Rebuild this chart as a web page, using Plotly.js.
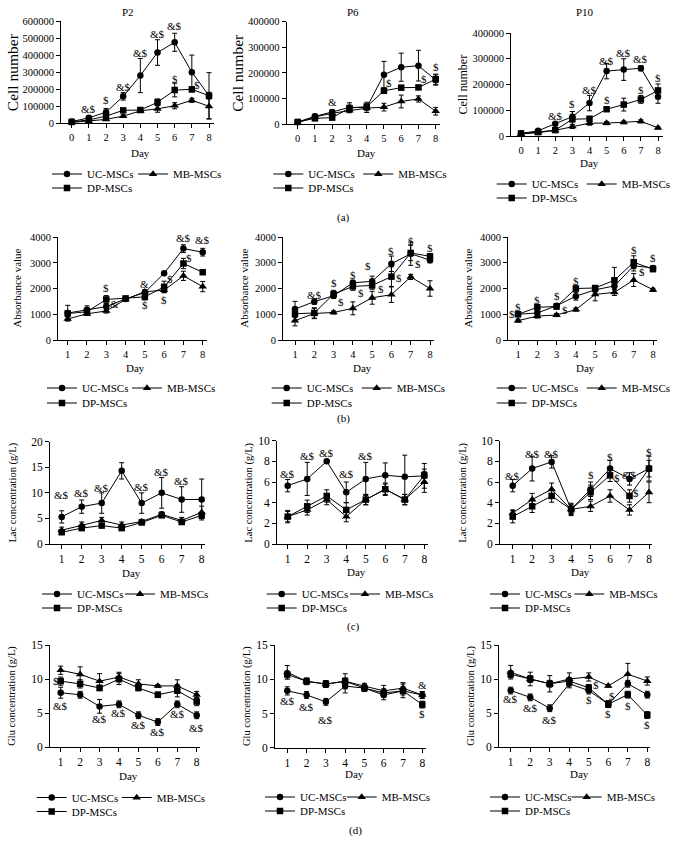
<!DOCTYPE html>
<html><head><meta charset="utf-8">
<script src="https://cdn.plot.ly/plotly-3.0.1.min.js"></script>
<style>html,body{margin:0;padding:0;background:#fff}#chart{width:678px;height:841px}</style>
</head><body><div id="chart"></div>
<script>
// ================= DATA =================
const daysA = [0,1,2,3,4,5,6,7,8];
const daysB = [1,2,3,4,5,6,7,8];
const seriesNames = ['UC-MSCs','MB-MSCs','DP-MSCs'];
const panelTitles = ['P2','P6','P10'];
const rowLabels = ['(a)','(b)','(c)','(d)'];
const yTitles = ['Cell number','Absorbance value','Lac concentration (g/L)','Glu concentration (g/L)'];
const xTitle = 'Day';

// (a) P2 cell number
const a1_uc = [10000,32000,65000,158000,280000,415000,475000,300000,162000];
const a1_ucErr = [3000,8000,22000,22000,100000,75000,53000,100000,135000];
const a1_mb = [5000,12000,23000,42000,73000,85000,103000,135000,100000];
const a1_mbErr = [2000,4000,6000,8000,8000,20000,18000,12000,75000];
const a1_dp = [8000,20000,42000,76000,78000,123000,195000,199000,162000];
const a1_dpErr = [2000,5000,10000,10000,8000,20000,40000,15000,20000];
const a1_sigX = [1,2,3,4,5,6,6,7.3,8.3];
const a1_sigY = [84000,137000,215000,414000,523000,572000,260000,225000,180000];
const a1_sigT = ['&$','$','&$','&$','&$','&$','$','$','$'];

// (a) P6 cell number
const a2_uc = [8000,30000,47000,65000,65000,193000,222000,228000,172000];
const a2_ucErr = [3000,8000,8000,18000,20000,52000,55000,60000,20000];
const a2_mb = [5000,28000,42000,52000,62000,66000,88000,98000,50000];
const a2_mbErr = [2000,5000,5000,8000,10000,15000,25000,12000,15000];
const a2_dp = [8000,22000,25000,62000,68000,130000,142000,143000,175000];
const a2_dpErr = [2000,5000,8000,10000,10000,10000,8000,8000,20000];
const a2_sigX = [2,5.3,7.3,8,8.3];
const a2_sigY = [87000,159000,176000,224000,198000];
const a2_sigT = ['&','$','$','$','$'];

// (a) P10 cell number
const a3_uc = [10000,20000,48000,75000,128000,252000,258000,263000,152000];
const a3_ucErr = [3000,4000,6000,20000,30000,30000,42000,10000,25000];
const a3_mb = [8000,13000,22000,37000,50000,50000,53000,57000,32000];
const a3_mbErr = [2000,3000,4000,8000,8000,6000,5000,6000,4000];
const a3_dp = [10000,15000,23000,65000,67000,104000,122000,142000,177000];
const a3_dpErr = [2000,3000,5000,30000,8000,8000,25000,15000,25000];
const a3_sigX = [2,3,4,5,6,7,5,7,8,8.45];
const a3_sigY = [78000,123000,179000,292000,322000,299000,140000,179000,225000,177000];
const a3_sigT = ['&$','$','&$','&$','&$','&$','$','$','$','$'];

// (b) absorbance
const b1_uc = [1050,1180,1300,1600,1850,2600,3560,3420];
const b1_ucErr = [300,150,120,60,80,40,150,150];
const b1_mb = [820,1020,1130,1580,1880,1940,2500,2080];
const b1_mbErr = [80,60,80,60,80,100,180,200];
const b1_dp = [1030,1100,1580,1620,1680,2070,2980,2640];
const b1_dpErr = [100,80,150,60,120,220,200,80];
const b1_sigX = [3,3.45,5,5,6.3,6,7,8,7.3,8.3];
const b1_sigY = [2010,1420,2200,1360,2380,1560,3960,3900,3200,2900];
const b1_sigT = ['$','&','&','$','$','$','&$','&$','$','$'];

const b2_uc = [1200,1490,1720,2220,2280,2960,3350,3100];
const b2_ucErr = [300,100,100,100,200,300,450,100];
const b2_mb = [750,1030,1070,1230,1640,1760,2450,2000];
const b2_mbErr = [200,200,60,250,250,300,100,300];
const b2_dp = [1020,1050,1780,2080,2120,2460,3380,3250];
const b2_dpErr = [150,200,150,150,150,380,300,100];
const b2_sigX = [2,3,3.4,4,4.4,4.8,5.45,6,6.4,7,7.4,8,8.38];
const b2_sigY = [1750,2210,1480,2530,1830,2860,1970,3440,2400,3860,2960,3570,3140];
const b2_sigT = ['&$','$','$','$','$','$','$','$','$','$','$','$','$'];

const b3_uc = [1000,1050,1330,1700,1950,2100,2880,2800];
const b3_ucErr = [60,80,80,150,80,150,200,80];
const b3_mb = [750,930,970,1180,1770,1850,2330,1950];
const b3_mbErr = [60,80,60,60,250,120,250,60];
const b3_dp = [1000,1270,1300,2000,2020,2320,3020,2750];
const b3_dpErr = [80,80,100,100,80,500,250,80];
const b3_sigX = [0.68,1,2,3,3.42,4,7,7.45,8,8.38];
const b3_sigY = [1000,1300,1560,1700,1150,2310,3500,2630,3170,2780];
const b3_sigT = ['$','$','$','$','$','$','$','$','$','$'];

// (c) lactate
const c1_uc = [5.3,7.3,8.0,14.3,8.0,10.0,8.7,8.7];
const c1_ucErr = [1.2,1.3,2.0,1.6,2.0,3.0,2.5,4.0];
const c1_mb = [2.7,3.7,4.6,3.7,4.4,5.8,4.6,6.2];
const c1_mbErr = [0.6,0.6,0.6,0.6,0.4,0.5,0.6,1.2];
const c1_dp = [2.3,3.1,3.6,3.1,4.2,5.6,4.3,5.6];
const c1_dpErr = [0.4,0.4,0.4,0.4,0.3,0.4,0.4,0.6];
const c1_sigX = [1,2,3,5,6,7];
const c1_sigY = [9.6,10.0,10.9,11.2,14.1,12.3];
const c1_sigT = ['&$','&$','&$','&$','&$','&$'];

const c2_uc = [5.65,6.3,8.0,5.0,6.3,6.65,6.5,6.6];
const c2_ucErr = [0.6,1.6,0.1,1.0,1.6,1.2,2.1,1.2];
const c2_mb = [2.65,3.3,4.3,2.65,4.3,5.3,4.3,6.0];
const c2_mbErr = [0.5,0.5,0.5,0.5,0.5,0.5,0.5,1.0];
const c2_dp = [2.65,3.65,4.65,3.3,4.3,5.3,4.3,6.65];
const c2_dpErr = [0.6,0.6,0.6,0.7,0.5,0.6,0.5,0.6];
const c2_sigX = [1,2,3,4,5];
const c2_sigY = [6.8,8.5,8.8,6.8,8.5];
const c2_sigT = ['&$','&$','&$','&$','&$'];

const c3_uc = [5.65,7.3,7.95,3.35,5.3,7.3,6.3,7.3];
const c3_ucErr = [0.6,1.2,0.6,0.5,0.7,0.8,0.6,1.2];
const c3_mb = [3.0,4.3,5.3,3.35,3.65,4.65,3.3,5.0];
const c3_mbErr = [0.3,0.6,0.6,0.4,0.5,0.6,0.5,1.0];
const c3_dp = [2.65,3.65,4.65,3.35,5.0,6.65,4.65,7.3];
const c3_dpErr = [0.6,0.6,0.6,0.6,0.7,0.6,0.6,0.8];
const c3_sigX = [1,2,3,5,6,6.35,7,7.35,8,8.35];
const c3_sigY = [6.6,8.7,8.7,6.7,8.45,6.35,6.7,4.9,8.9,7.3];
const c3_sigT = ['&$','&$','&$','$','$','$','&$','$','$','$'];

// (d) glucose
const d1_uc = [8.0,7.7,6.0,6.3,4.7,3.7,6.3,4.7];
const d1_ucErr = [0.8,0.5,1.0,0.5,0.5,0.5,0.5,0.5];
const d1_mb = [11.3,10.7,9.7,10.3,9.3,9.0,9.0,7.7];
const d1_mbErr = [0.6,1.1,1.1,0.7,0.6,0.2,0.9,0.5];
const d1_dp = [9.7,9.3,8.7,10.0,8.7,7.7,8.3,6.7];
const d1_dpErr = [0.6,0.6,0.4,0.8,0.4,0.4,0.9,0.6];
const d1_sigX = [0.78,1,3,4,5,6,7,8];
const d1_sigY = [9.7,6.0,4.1,5.0,3.3,2.3,4.9,2.9];
const d1_sigT = ['$','&$','&$','&$','&$','&$','&$','&$'];

const d2_uc = [8.3,7.7,6.7,9.0,8.7,7.7,8.3,7.7];
const d2_ucErr = [0.6,0.5,0.5,1.0,0.5,0.7,1.0,0.5];
const d2_mb = [11.0,9.7,9.3,9.7,9.0,8.3,8.7,7.7];
const d2_mbErr = [1.0,0.5,0.5,1.1,0.4,0.8,0.8,0.5];
const d2_dp = [10.7,9.7,9.3,9.7,8.7,8.0,8.3,6.3];
const d2_dpErr = [0.5,0.4,0.5,0.5,0.4,0.6,0.6,0.5];
const d2_sigX = [1,2,3,8,8];
const d2_sigY = [6.8,6.0,4.0,9.2,4.9];
const d2_sigT = ['&$','&$','&$','&','$'];

const d3_uc = [8.3,7.3,5.7,9.3,8.3,6.3,9.3,7.7];
const d3_ucErr = [0.5,0.5,0.5,0.6,0.5,0.5,0.5,0.5];
const d3_mb = [11.0,10.0,9.3,10.0,10.3,9.0,10.7,9.7];
const d3_mbErr = [1.0,1.0,1.2,0.9,0.6,0.2,1.6,0.6];
const d3_dp = [10.7,10.0,9.3,9.7,8.7,6.3,7.7,4.7];
const d3_dpErr = [0.5,0.5,0.5,0.5,0.5,0.5,0.5,0.5];
const d3_sigX = [1,2,3,5,5.35,6.2,6,7,8.38,8];
const d3_sigY = [7.1,5.7,4.0,6.9,9.1,7.5,4.9,6.1,7.7,3.2];
const d3_sigT = ['&$','&$','&$','$','$','$','$','$','&$','$'];

// ================= LAYOUT / DRAWING =================
const W = 678, H = 841;
const FONT = 'Liberation Serif, Times New Roman, serif';
const fx = px => px / W;
const fy = py => 1 - py / H;

const panels = [
 {x:daysA, s:[a1_uc,a1_mb,a1_dp], e:[a1_ucErr,a1_mbErr,a1_dpErr], sig:[a1_sigX,a1_sigY,a1_sigT], yMax:600000, dy:100000, yt:yTitles[0], title:panelTitles[0],
  g:{L:61,t0:71.7,t1:209,R:214,top:21,bot:123.3,tf:10.5,ytx:12,ytf:15.5,dayY:153,lx:87,lmb:173,r1:174,r2:188,tx:128,ty:12}},
 {x:daysA, s:[a2_uc,a2_mb,a2_dp], e:[a2_ucErr,a2_mbErr,a2_dpErr], sig:[a2_sigX,a2_sigY,a2_sigT], yMax:400000, dy:100000, yt:yTitles[0], title:panelTitles[1],
  g:{L:286.7,t0:297.7,t1:435.7,R:440,top:21.7,bot:124,tf:10.5,ytx:238,ytf:15.5,dayY:153,lx:308.3,lmb:398.3,r1:174,r2:188,tx:353,ty:12}},
 {x:daysA, s:[a3_uc,a3_mb,a3_dp], e:[a3_ucErr,a3_mbErr,a3_dpErr], sig:[a3_sigX,a3_sigY,a3_sigT], yMax:400000, dy:100000, yt:yTitles[0], title:panelTitles[2],
  g:{L:511,t0:521,t1:658,R:663,top:33,bot:136,tf:10.5,ytx:462,ytf:12,dayY:163,lx:531.7,lmb:621.7,r1:184,r2:198,tx:585,ty:12}},
 {x:daysB, s:[b1_uc,b1_mb,b1_dp], e:[b1_ucErr,b1_mbErr,b1_dpErr], sig:[b1_sigX,b1_sigY,b1_sigT], yMax:4000, dy:1000, yt:yTitles[1],
  g:{L:58,t0:67.7,t1:202.7,R:206.7,top:237.3,bot:340,tf:10.5,ytx:17,ytf:11,dayY:368,lx:82,lmb:167,r1:388,r2:403}},
 {x:daysB, s:[b2_uc,b2_mb,b2_dp], e:[b2_ucErr,b2_mbErr,b2_dpErr], sig:[b2_sigX,b2_sigY,b2_sigT], yMax:4000, dy:1000, yt:yTitles[1],
  g:{L:283,t0:295,t1:430,R:434,top:237,bot:340,tf:10.5,ytx:244.3,ytf:11,dayY:368,lx:306.7,lmb:396.7,r1:388,r2:403}},
 {x:daysB, s:[b3_uc,b3_mb,b3_dp], e:[b3_ucErr,b3_mbErr,b3_dpErr], sig:[b3_sigX,b3_sigY,b3_sigT], yMax:4000, dy:1000, yt:yTitles[1],
  g:{L:508,t0:518,t1:653,R:657,top:237,bot:340,tf:10.5,ytx:468.3,ytf:11,dayY:368,lx:531.7,lmb:621.7,r1:388,r2:403}},
 {x:daysB, s:[c1_uc,c1_mb,c1_dp], e:[c1_ucErr,c1_mbErr,c1_dpErr], sig:[c1_sigX,c1_sigY,c1_sigT], yMax:20, dy:5, yt:yTitles[2],
  g:{L:50,t0:61.7,t1:201.7,R:204.7,top:441.7,bot:544,tf:11.5,ytx:12.7,ytf:10.5,dayY:572.5,lx:77,lmb:160,r1:594,r2:608}},
 {x:daysB, s:[c2_uc,c2_mb,c2_dp], e:[c2_ucErr,c2_mbErr,c2_dpErr], sig:[c2_sigX,c2_sigY,c2_sigT], yMax:10, dy:2, yt:yTitles[2],
  g:{L:277,t0:287.7,t1:424.3,R:427.6,top:440.7,bot:544,tf:11.5,ytx:249.3,ytf:10.5,dayY:572,lx:301.7,lmb:385,r1:594,r2:608}},
 {x:daysB, s:[c3_uc,c3_mb,c3_dp], e:[c3_ucErr,c3_mbErr,c3_dpErr], sig:[c3_sigX,c3_sigY,c3_sigT], yMax:10, dy:2, yt:yTitles[2],
  g:{L:500,t0:512.7,t1:649,R:652.3,top:440.7,bot:544,tf:11.5,ytx:463.3,ytf:10.5,dayY:572,lx:525,lmb:609.3,r1:594,r2:608}},
 {x:daysB, s:[d1_uc,d1_mb,d1_dp], e:[d1_ucErr,d1_mbErr,d1_dpErr], sig:[d1_sigX,d1_sigY,d1_sigT], yMax:15, dy:5, yt:yTitles[3],
  g:{L:50,t0:60.7,t1:196.7,R:200,top:645,bot:747.3,tf:11.5,ytx:11.7,ytf:10.5,dayY:775.5,lx:71.7,lmb:156.7,r1:797.5,r2:811.5}},
 {x:daysB, s:[d2_uc,d2_mb,d2_dp], e:[d2_ucErr,d2_mbErr,d2_dpErr], sig:[d2_sigX,d2_sigY,d2_sigT], yMax:15, dy:5, yt:yTitles[3],
  g:{L:275,t0:287.3,t1:422.3,R:425.6,top:645,bot:747.7,tf:11.5,ytx:247.7,ytf:10.5,dayY:774,lx:300,lmb:381.7,r1:797,r2:811}},
 {x:daysB, s:[d3_uc,d3_mb,d3_dp], e:[d3_ucErr,d3_mbErr,d3_dpErr], sig:[d3_sigX,d3_sigY,d3_sigT], yMax:15, dy:5, yt:yTitles[3],
  g:{L:499,t0:510.7,t1:647.3,R:650.3,top:645,bot:747,tf:11.5,ytx:470.7,ytf:10.5,dayY:774,lx:525,lmb:606.7,r1:797,r2:811}}
];

const symbols = ['circle','triangle-up','square'];
const msize = [6.5,7.5,6.5];
const traces = [];
const layout = {
  width: W, height: H, margin:{l:0,r:0,t:0,b:0},
  paper_bgcolor:'#fff', plot_bgcolor:'rgba(0,0,0,0)',
  font:{family:FONT, color:'#000', size:11},
  annotations: [], showlegend: true, hovermode:false
};
const ann = layout.annotations;
const txt = (size) => ({family:FONT, size:size, color:'#000'});
const esc = s => s.replace(/&/g, '&amp;').replace(/\$/g, '&#36;');

panels.forEach((p, i) => {
  const n = i + 1;
  const sfx = n === 1 ? '' : String(n);
  const xa = 'x' + sfx, ya = 'y' + sfx;
  const g = p.g;
  const v0 = p.x[0], v1 = p.x[p.x.length - 1];
  const sc = (g.t1 - g.t0) / (v1 - v0);
  const lo = v0 - (g.t0 - g.L) / sc, hi = v1 + (g.R - g.t1) / sc;
  const legPos = [[g.lx, g.r1], [g.lmb, g.r1], [g.lx, g.r2]];

  p.s.forEach((ys, k) => {
    const li = 3*i + k + 1;
    const legName = 'legend' + (li === 1 ? '' : li);
    traces.push({
      type:'scatter', mode:'lines+markers', x:p.x, y:ys, name:seriesNames[k],
      xaxis:xa, yaxis:ya, legend:legName, cliponaxis:false,
      line:{color:'#000', width:1},
      marker:{symbol:symbols[k], size:msize[k], color:'#000'},
      error_y:{type:'data', array:p.e[k], visible:true, color:'#000', thickness:1, width:2.5}
    });
    layout[legName] = {x:fx(legPos[k][0] - 40), y:fy(legPos[k][1]), xanchor:'left', yanchor:'middle',
      orientation:'h', bgcolor:'rgba(0,0,0,0)', borderwidth:0, font:txt(11),
      itemclick:false, itemdoubleclick:false};
  });

  const axBase = {showline:true, linecolor:'#000', linewidth:1, ticks:'outside', ticklen:4, tickwidth:1,
    tickcolor:'#000', showgrid:false, zeroline:false, fixedrange:true, tickfont:txt(g.tf)};
  layout['xaxis' + sfx] = Object.assign({}, axBase, {
    domain:[fx(g.L), fx(g.R)], range:[lo, hi], anchor:ya, tickmode:'array', tickvals:p.x, ticktext:p.x.map(String)});
  layout['yaxis' + sfx] = Object.assign({}, axBase, {
    domain:[fy(g.bot), fy(g.top)], range:[0, p.yMax], anchor:xa, tickmode:'linear', tick0:0, dtick:p.dy, tickformat:'d'});

  p.sig[0].forEach((sx, j) => {
    ann.push({xref:xa, yref:ya, x:sx, y:p.sig[1][j],
      text:'<span style="color:#000000">' + esc(p.sig[2][j]) + '</span>', showarrow:false,
      xanchor:'center', yanchor:'middle', font:txt(11)});
  });
  ann.push({xref:'paper', yref:'paper', x:fx(g.ytx), y:fy((g.top + g.bot)/2), text:p.yt, textangle:-90,
    showarrow:false, xanchor:'center', yanchor:'middle', font:txt(g.ytf)});
  ann.push({xref:'paper', yref:'paper', x:fx((g.t0 + g.t1)/2), y:fy(g.dayY), text:xTitle,
    showarrow:false, xanchor:'center', yanchor:'middle', font:txt(11)});
  if (p.title) {
    ann.push({xref:'paper', yref:'paper', x:fx(g.tx), y:fy(g.ty), text:p.title,
      showarrow:false, xanchor:'center', yanchor:'middle', font:txt(11)});
  }
});

const rowLabelPos = [[343,218],[343,418],[353,626],[355,830]];
rowLabels.forEach((t, i) => {
  ann.push({xref:'paper', yref:'paper', x:fx(rowLabelPos[i][0]), y:fy(rowLabelPos[i][1]), text:t,
    showarrow:false, xanchor:'center', yanchor:'middle', font:txt(11)});
});

Plotly.newPlot('chart', traces, layout, {displayModeBar:false, staticPlot:true});
</script>
</body></html>
